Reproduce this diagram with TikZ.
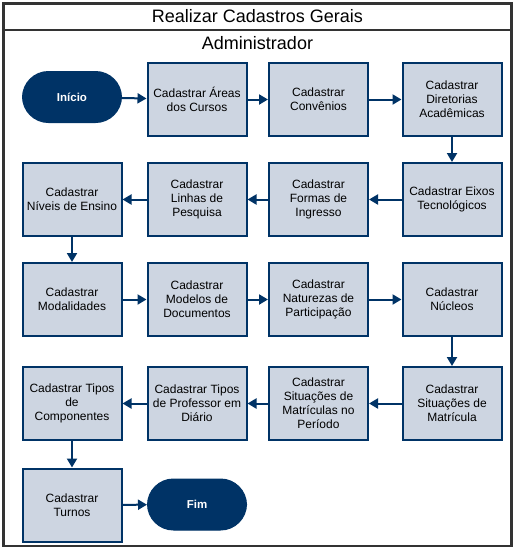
\documentclass[tikz,border=0pt]{standalone}
\usepackage{fontspec}
\setmainfont{Liberation Sans}
\usetikzlibrary{arrows.meta}
\definecolor{navy}{HTML}{003366}
\definecolor{boxfill}{HTML}{CDD5E1}
\definecolor{frame}{HTML}{333333}
\tikzset{
  box/.style={draw=navy, fill=boxfill, line width=2pt, minimum width=99pt, minimum height=73pt,
    align=center, font=\fontsize{12}{14}\selectfont, inner sep=1pt},
  term/.style={draw=navy, fill=navy, line width=1pt, rounded corners=26pt, minimum width=99pt,
    minimum height=51pt, text=white, font=\fontsize{11.5}{14}\selectfont\bfseries},
  arr/.style={draw=navy, line width=2pt, -{Triangle[length=9pt,width=10pt]}}
}
\begin{document}
\begin{tikzpicture}[x=1pt,y=-1pt]
\useasboundingbox (0,0) rectangle (515,549);
\draw[frame, line width=2.5pt] (3.5,3.5) rectangle (511.5,546);
\draw[frame, line width=2.5pt] (3.5,30) -- (511.5,30);
\node[font=\fontsize{18}{20}\selectfont] (title) at (257.5,16.5) {Realizar Cadastros Gerais};
\node[font=\fontsize{18}{20}\selectfont] (lane) at (257.5,43) {Administrador};
\node[term] (ini) at (72,97) {Início};
\node[term] (fim) at (197,504.5) {Fim};
\foreach \n/\x/\y/\t in {areas/197/99.5/Cadastrar Áreas\\dos Cursos,
  conv/318.5/99.5/Cadastrar\\Convênios,
  dir/452/99.5/Cadastrar\\Diretorias\\Acadêmicas,
  eixos/452/199.5/Cadastrar Eixos\\Tecnológicos,
  formas/318.5/199.5/Cadastrar\\Formas de\\Ingresso,
  linhas/197/199.5/Cadastrar\\Linhas de\\Pesquisa,
  niveis/72/199.5/Cadastrar\\Níveis de Ensino,
  modal/72/299.5/Cadastrar\\Modalidades,
  modelos/197/299.5/Cadastrar\\Modelos de\\Documentos,
  natur/318.5/299.5/Cadastrar\\Naturezas de\\Participação,
  nucleos/452/299.5/Cadastrar\\Núcleos,
  sitmat/452/403.5/Cadastrar\\Situações de\\Matrícula,
  sitper/318.5/403.5/Cadastrar\\Situações de\\Matrículas no\\Período,
  tprof/197/403.5/Cadastrar Tipos\\de Professor em\\Diário,
  tcomp/72/403.5/Cadastrar Tipos\\de\\Componentes,
  turnos/72/505/Cadastrar\\Turnos}
{
\node[box] (\n) at (\x,\y) {\t};
}
\foreach \a/\b in {ini/areas, areas/conv, conv/dir, dir/eixos, eixos/formas, formas/linhas,
  linhas/niveis, niveis/modal, modal/modelos, modelos/natur, natur/nucleos, nucleos/sitmat,
  sitmat/sitper, sitper/tprof, tprof/tcomp, tcomp/turnos, turnos/fim}
{
\draw[arr] (\a) -- (\b);
}
\end{tikzpicture}
\end{document}
